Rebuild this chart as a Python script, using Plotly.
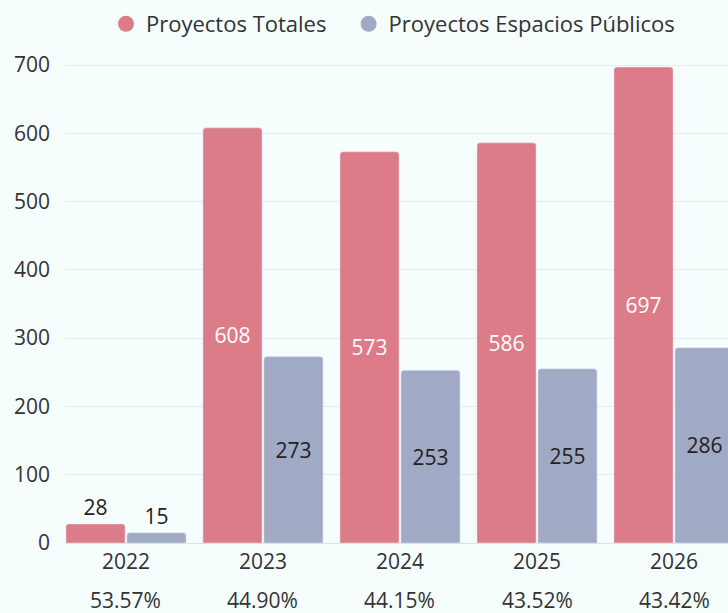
import plotly.graph_objects as go

years = ["2022", "2023", "2024", "2025", "2026"]
totales = [28, 608, 573, 586, 697]
publicos = [15, 273, 253, 255, 286]
porcentajes = ["53.57%", "44.90%", "44.15%", "43.52%", "43.42%"]

red = "rgb(220,124,137)"
blue = "rgb(160,170,196)"
bg = "rgb(245,253,253)"
font = "Open Sans"
fs = 21

W, H = 728, 613
ml, mr, mt, mb = 65, 0, 58, 70
plot_h = H - mt - mb
plot_w = W - ml - mr

fig = go.Figure()
fig.add_trace(go.Bar(
    x=years, y=totales, name="Proyectos Totales", marker=dict(color=red, cornerradius=3),
    text=[str(v) for v in totales], textposition="auto", insidetextanchor="middle",
    insidetextfont=dict(color="white", size=fs, family=font),
    outsidetextfont=dict(color="#222", size=fs, family=font),
    showlegend=False, cliponaxis=False, textangle=0,
))
fig.add_trace(go.Bar(
    x=years, y=publicos, name="Proyectos Espacios Públicos", marker=dict(color=blue, cornerradius=3),
    text=[str(v) for v in publicos], textposition="auto", insidetextanchor="middle",
    insidetextfont=dict(color="#222", size=fs, family=font),
    outsidetextfont=dict(color="#222", size=fs, family=font),
    showlegend=False, cliponaxis=False, textangle=0,
))
for name, col in [("Proyectos Totales" + "\u00a0" * 3, red), ("Proyectos Espacios Públicos", blue)]:
    fig.add_trace(go.Scatter(
        x=[None], y=[None], mode="markers", name=name,
        marker=dict(color=col, size=17, symbol="circle"),
    ))

for i, p in enumerate(porcentajes):
    fig.add_annotation(x=i, xref="x", y=(543 - 600) / plot_h, yref="paper",
                       text=p, showarrow=False, yanchor="middle",
                       font=dict(size=fs, family=font, color="#333"))

fig.update_layout(
    width=W, height=H,
    paper_bgcolor=bg, plot_bgcolor=bg,
    margin=dict(l=ml, r=mr, t=mt, b=mb, pad=0),
    barmode="group", bargap=0.11, bargroupgap=0.03,
    font=dict(family=font, size=fs, color="#333"),
    legend=dict(orientation="h", x=(393 - ml) / plot_w, xanchor="center", y=1 - 24 / H,
                yanchor="middle", yref="container", font=dict(size=22, color="#333"),
                itemsizing="trace"),
    xaxis=dict(type="category", range=[-0.445, 4.394], showgrid=False, ticks="",
               tickfont=dict(size=fs, color="#333"),
               showline=True, linecolor="#dde3e3", linewidth=1),
    yaxis=dict(range=[0, plot_h / ((543 - 65) / 700)], dtick=100, gridcolor="#e6ebeb",
               gridwidth=1, zeroline=False, ticks="", ticklabelstandoff=14,
               tickfont=dict(size=fs, color="#333")),
)

fig.write_html("out.html", config={"displayModeBar": False}, post_script=(
    "document.body.style.margin='0';document.body.style.overflow='hidden';"
    "document.body.style.background='rgb(245,253,253)';"
))
